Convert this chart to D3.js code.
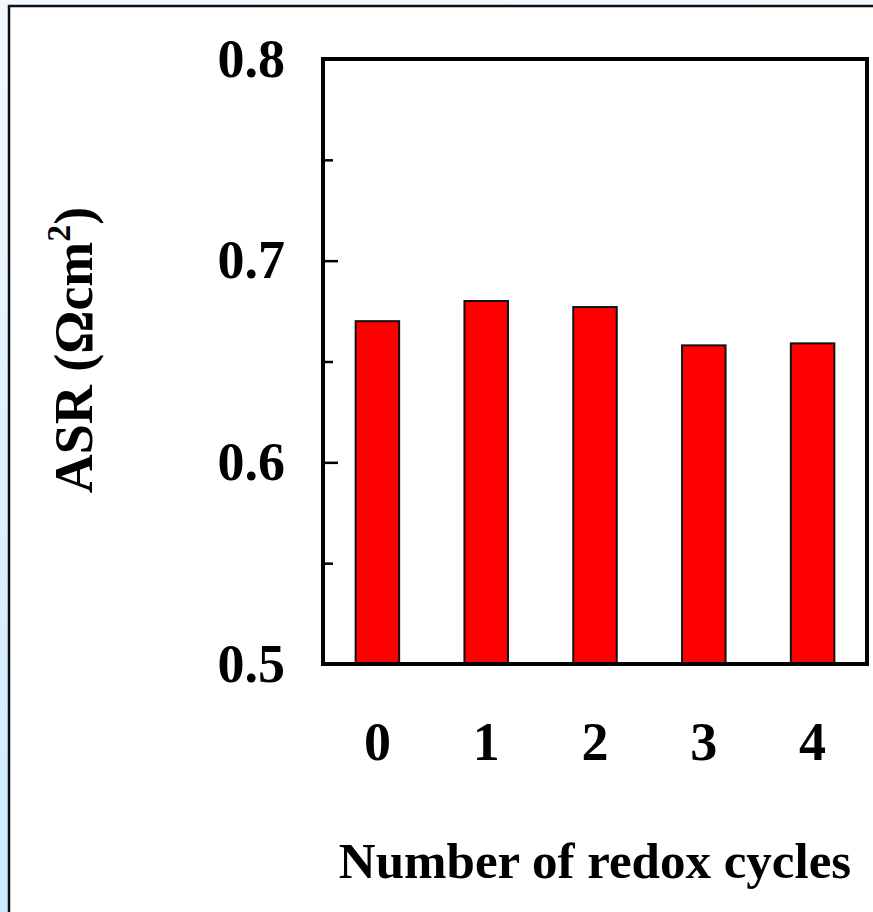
<!DOCTYPE html>
<html>
<head>
<meta charset="utf-8">
<script src="https://cdn.jsdelivr.net/npm/d3@7"></script>
<style>
  body { margin: 0; }
  svg { display: block; }
  text { font-family: "Liberation Serif", "Times New Roman", serif; font-weight: bold; }
</style>
</head>
<body>
<svg id="chart" width="873" height="912"></svg>
<script>
const cycles = ["0", "1", "2", "3", "4"];
const asr = [0.670, 0.680, 0.677, 0.658, 0.659];
const majorTicks = [0.5, 0.6, 0.7, 0.8];
const minorTicks = [0.55, 0.65, 0.75];

const svg = d3.select("#chart");
const margin = { top: 59, right: 6, bottom: 248, left: 323 };
const width = +svg.attr("width") - margin.left - margin.right;
const height = +svg.attr("height") - margin.top - margin.bottom;

// page background and panel
const grad = svg.append("defs").append("linearGradient")
    .attr("id", "bg").attr("x1", 0).attr("y1", 0).attr("x2", 0).attr("y2", 1);
grad.append("stop").attr("offset", "0%").attr("stop-color", "#f2f9ff");
grad.append("stop").attr("offset", "100%").attr("stop-color", "#cce9ff");
svg.append("rect").attr("width", 873).attr("height", 912).attr("fill", "url(#bg)");
svg.append("rect")
    .attr("x", 9).attr("y", 6).attr("width", 880).attr("height", 920)
    .attr("fill", "white").attr("stroke", "#111").attr("stroke-width", 2.5);

const x = d3.scaleBand()
    .domain(cycles)
    .range([0, width])
    .paddingInner(0.6)
    .paddingOuter(0.3);

const y = d3.scaleLinear()
    .domain([0.5, 0.8])
    .range([height, 0]);

const g = svg.append("g")
    .attr("transform", "translate(" + margin.left + "," + margin.top + ")");

g.selectAll("rect.bar")
    .data(asr)
    .enter().append("rect")
    .attr("class", "bar")
    .attr("x", (d, i) => x(cycles[i]))
    .attr("y", d => y(d))
    .attr("width", x.bandwidth())
    .attr("height", d => y(0.5) - y(d))
    .attr("fill", "#ff0000")
    .attr("stroke", "#111")
    .attr("stroke-width", 2);

// y axis, ticks pointing inward
const yAxis = g.append("g")
    .call(d3.axisLeft(y).tickValues(majorTicks).tickSize(-15).tickPadding(38).tickFormat(d3.format(".1f")));
yAxis.select(".domain").remove();
yAxis.selectAll("line").attr("stroke", "#000").attr("stroke-width", 2.5);
yAxis.selectAll("text").attr("font-size", 54).attr("fill", "#000");

const yMinor = g.append("g")
    .call(d3.axisLeft(y).tickValues(minorTicks).tickSize(-10).tickFormat(""));
yMinor.select(".domain").remove();
yMinor.selectAll("line").attr("stroke", "#000").attr("stroke-width", 2.5);

// x axis labels
const xAxis = g.append("g")
    .attr("transform", "translate(0," + height + ")")
    .call(d3.axisBottom(x).tickSize(0).tickPadding(58));
xAxis.select(".domain").remove();
xAxis.selectAll("text").attr("font-size", 54).attr("fill", "#000");

// frame
g.append("rect")
    .attr("width", width).attr("height", height)
    .attr("fill", "none").attr("stroke", "#000").attr("stroke-width", 4);

g.append("text")
    .attr("text-anchor", "middle")
    .attr("x", width / 2)
    .attr("y", height + 214)
    .attr("font-size", 51)
    .text("Number of redox cycles");

const yl = g.append("text")
    .attr("text-anchor", "middle")
    .attr("transform", "rotate(-90)")
    .attr("x", -(350 - margin.top))
    .attr("y", -231)
    .attr("font-size", 54);
yl.append("tspan").text("ASR (Ωcm");
yl.append("tspan").attr("font-size", 34).attr("dy", -22).text("2");
yl.append("tspan").attr("dy", 22).text(")");
</script>
</body>
</html>
